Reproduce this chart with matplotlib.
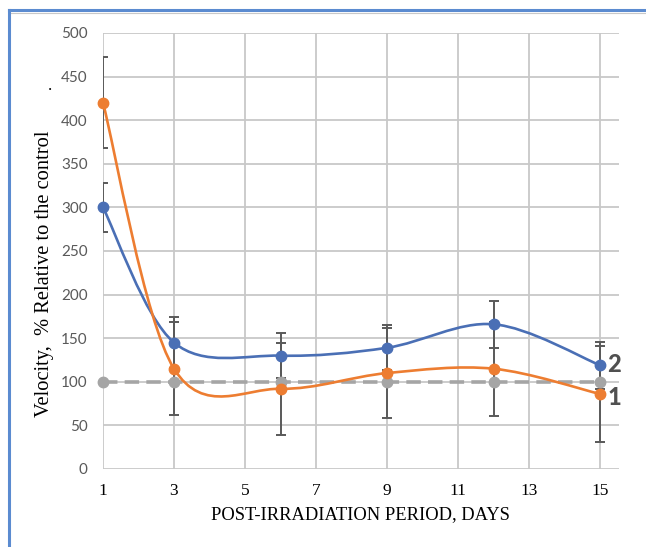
import numpy as np
import matplotlib
matplotlib.use('agg')
import matplotlib.pyplot as plt
from matplotlib.path import Path
from matplotlib.patches import PathPatch
from matplotlib.lines import Line2D

# days after irradiation
days = [1, 3, 6, 9, 12, 15]

# series 1 (orange), series 2 (blue), control (gray)
vel_1 = [420, 115, 92, 110, 115, 86]
err_1 = [52, 53, 53, 52, 54, 55]
vel_2 = [300, 145, 130, 139, 166, 119]
err_2 = [28, 29, 26, 26, 27, 27]
control = [100, 100, 100, 100, 100, 100]

x_ticks = [1, 3, 5, 7, 9, 11, 13, 15]
y_ticks = [0, 50, 100, 150, 200, 250, 300, 350, 400, 450, 500]

c_orange = '#ED7D31'
c_blue = '#4A6FB5'
c_gray = '#A5A5A5'
c_err = '#595959'


def smooth_path(xs, ys):
    # Excel-like smoothed line: cubic bezier through the points
    pts = np.column_stack([xs, ys]).astype(float)
    n = len(pts)
    verts = [pts[0]]
    codes = [Path.MOVETO]
    for i in range(n - 1):
        p0 = pts[i - 1] if i > 0 else pts[i]
        p1 = pts[i]
        p2 = pts[i + 1]
        p3 = pts[i + 2] if i + 2 < n else pts[i + 1]
        c1 = p1 + (p2 - p0) / 6
        c2 = p2 - (p3 - p1) / 6
        verts += [c1, c2, p2]
        codes += [Path.CURVE4] * 3
    return Path(verts, codes)


fig = plt.figure(figsize=(6.46, 5.47), dpi=100)
ax = fig.add_axes([0.1594, 0.1426, 0.7986, 0.7971])

ax.set_xlim(1, 15.53)
ax.set_ylim(0, 500)
ax.set_xticks(x_ticks)
ax.set_yticks(y_ticks)
ax.grid(True, color='#C8C8C8', linewidth=1.3, zorder=0)
for s in ax.spines.values():
    s.set_visible(False)
ax.tick_params(length=0)
ax.tick_params(axis='x', pad=10)
ax.tick_params(axis='y', pad=11)

for lab in ax.get_xticklabels():
    lab.set_fontfamily('Liberation Serif')
    lab.set_fontsize(12.5)
    lab.set_color('black')
for lab in ax.get_yticklabels():
    lab.set_fontfamily('Lato')
    lab.set_fontsize(11)
    lab.set_color(c_err)

# error bars
ax.errorbar(days, vel_1, yerr=err_1, fmt='none', ecolor=c_err,
            elinewidth=1.4, capsize=3.5, capthick=1.4, zorder=2, clip_on=True)
ax.errorbar(days, vel_2, yerr=err_2, fmt='none', ecolor=c_err,
            elinewidth=1.4, capsize=3.5, capthick=1.4, zorder=2, clip_on=True)

# control dashed line
ax.plot(days, control, color=c_gray, linewidth=2.6, linestyle=(0, (4, 2)),
        marker='o', markersize=7.5, zorder=3, clip_on=False)

# smoothed series
for vals, col in [(vel_2, c_blue), (vel_1, c_orange)]:
    ax.add_patch(PathPatch(smooth_path(days, vals), facecolor='none',
                           edgecolor=col, linewidth=1.9, zorder=4))
    ax.plot(days, vals, linestyle='none', marker='o', markersize=7.5,
            color=col, zorder=5, clip_on=False)

ax.text(15.2, vel_2[-1] + 1, '2', fontfamily='Lato', fontweight='black',
        fontsize=17, color='#505050', va='center', ha='left')
ax.text(15.2, vel_1[-1] - 4, '1', fontfamily='Lato', fontweight='black',
        fontsize=17, color='#505050', va='center', ha='left')

ax.set_xlabel('POST-IRRADIATION PERIOD, DAYS', fontfamily='Liberation Serif',
              fontsize=13.3, labelpad=5)
fig.text(0.069, 0.50, 'Velocity,  % Relative to the control', rotation=90,
         fontfamily='Liberation Serif', fontsize=14.8, ha='center', va='center')
fig.text(0.078, 0.835, '.', fontfamily='Liberation Serif', fontsize=12,
         ha='center', va='baseline')

# outer chart frame (cropped screenshot)
fig.add_artist(Line2D([0.014, 1.0], [0.981, 0.981], color='#5B8BD0', linewidth=2.2))
fig.add_artist(Line2D([0.016, 1.0], [0.976, 0.976], color='#C8C8C8', linewidth=0.8))
fig.add_artist(Line2D([0.014, 0.014], [0.0, 0.981], color='#5B8BD0', linewidth=2.2))

plt.savefig('out.png', dpi=100)
